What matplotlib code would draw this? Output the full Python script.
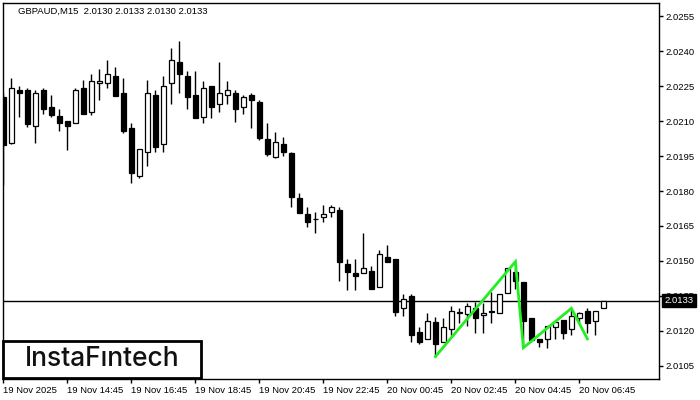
import matplotlib
matplotlib.use("Agg")
import matplotlib.pyplot as plt
import matplotlib.patches as mpatches
import numpy as np

# OHLC, 15 min candles starting 19 Nov 12:45
opens = [2.02204, 2.02007, 2.02233, 2.02233, 2.02080, 2.02233, 2.02159, 2.02121, 2.02100, 2.02090,
         2.02240, 2.02140, 2.02262, 2.02262, 2.02293, 2.02219, 2.02071, 2.01866, 2.01968, 2.02211,
         2.02000, 2.02262, 2.02354, 2.02293, 2.02211, 2.02118, 2.02250, 2.02172, 2.02211, 2.02219,
         2.02159, 2.02211, 2.02180, 2.02022, 2.01947, 2.02000, 2.01962, 2.01770, 2.01700, 2.01679,
         2.01687, 2.01709, 2.01719, 2.01486, 2.01447, 2.01447, 2.01457, 2.01387, 2.01516, 2.01507,
         2.01297, 2.01350, 2.01194, 2.01164, 2.01237, 2.01154, 2.01207, 2.01276, 2.01273, 2.01297,
         2.01269, 2.01283, 2.01276, 2.01364, 2.01454, 2.01411, 2.01254, 2.01164, 2.01164, 2.01216,
         2.01247, 2.01207, 2.01254, 2.01286, 2.01244, 2.01300]
highs = [2.02220, 2.02283, 2.02250, 2.02240, 2.02233, 2.02240, 2.02211, 2.02151, 2.02100, 2.02240,
         2.02276, 2.02301, 2.02323, 2.02361, 2.02330, 2.02283, 2.02090, 2.01979, 2.02276, 2.02233,
         2.02293, 2.02412, 2.02444, 2.02316, 2.02316, 2.02271, 2.02250, 2.02354, 2.02271, 2.02233,
         2.02211, 2.02219, 2.02190, 2.02090, 2.02052, 2.02033, 2.01968, 2.01790, 2.01733, 2.01709,
         2.01740, 2.01740, 2.01730, 2.01507, 2.01507, 2.01619, 2.01479, 2.01547, 2.01569, 2.01507,
         2.01359, 2.01359, 2.01218, 2.01276, 2.01259, 2.01254, 2.01307, 2.01297, 2.01319, 2.01326,
         2.01319, 2.01368, 2.01357, 2.01469, 2.01469, 2.01411, 2.01254, 2.01164, 2.01223, 2.01237,
         2.01247, 2.01297, 2.01283, 2.01297, 2.01286, 2.01330]
lows = [2.01826, 2.02001, 2.02118, 2.02076, 2.02007, 2.02129, 2.02118, 2.02058, 2.01976, 2.02090,
        2.02129, 2.02126, 2.02190, 2.02240, 2.02208, 2.02050, 2.01836, 2.01857, 2.01908, 2.01968,
        2.01968, 2.02172, 2.02219, 2.02150, 2.02112, 2.02090, 2.02112, 2.02140, 2.02172, 2.02097,
        2.02129, 2.02069, 2.02019, 2.01950, 2.01940, 2.01950, 2.01730, 2.01706, 2.01647, 2.01619,
        2.01668, 2.01687, 2.01416, 2.01376, 2.01376, 2.01447, 2.01379, 2.01387, 2.01497, 2.01264,
        2.01266, 2.01154, 2.01144, 2.01164, 2.01090, 2.01154, 2.01183, 2.01236, 2.01221, 2.01193,
        2.01193, 2.01236, 2.01276, 2.01364, 2.01379, 2.01133, 2.01154, 2.01133, 2.01126, 2.01164,
        2.01164, 2.01183, 2.01236, 2.01193, 2.01183, 2.01300]
closes = [2.01997, 2.02240, 2.02219, 2.02087, 2.02219, 2.02150, 2.02126, 2.02090, 2.02080, 2.02233,
          2.02129, 2.02271, 2.02271, 2.02301, 2.02208, 2.02058, 2.01878, 2.01979, 2.02219, 2.01990,
          2.02250, 2.02361, 2.02301, 2.02202, 2.02112, 2.02240, 2.02159, 2.02219, 2.02233, 2.02150,
          2.02202, 2.02190, 2.02028, 2.01959, 2.02009, 2.01968, 2.01774, 2.01707, 2.01668, 2.01680,
          2.01700, 2.01730, 2.01497, 2.01454, 2.01437, 2.01469, 2.01379, 2.01529, 2.01497, 2.01283,
          2.01336, 2.01183, 2.01154, 2.01244, 2.01144, 2.01216, 2.01286, 2.01283, 2.01307, 2.01254,
          2.01276, 2.01284, 2.01357, 2.01469, 2.01416, 2.01244, 2.01161, 2.01154, 2.01223, 2.01237,
          2.01193, 2.01266, 2.01276, 2.01236, 2.01286, 2.01330]

# pattern line (candle index, price)
pattern_idx = [54, 64, 65, 71, 73]
pattern_px = [2.01090, 2.01497, 2.01128, 2.01297, 2.01166]

last_price = 2.0133
y_ticks = [2.0105, 2.0120, 2.0135, 2.0150, 2.0165, 2.0180, 2.0195, 2.0210, 2.0225, 2.0240, 2.0255]
x_tick_idx = [0, 8, 16, 24, 32, 40, 48, 56, 64, 72]
x_tick_labels = ["19 Nov 2025", "19 Nov 14:45", "19 Nov 16:45", "19 Nov 18:45", "19 Nov 20:45",
                 "19 Nov 22:45", "20 Nov 00:45", "20 Nov 02:45", "20 Nov 04:45", "20 Nov 06:45"]

plt.rcParams['font.family'] = ['Liberation Sans', 'DejaVu Sans']

fig = plt.figure(figsize=(7, 4), dpi=100)
ax = fig.add_axes([3 / 700, 21 / 400, 656 / 700, 376 / 400])

o = np.array(opens)
h = np.array(highs)
l = np.array(lows)
c = np.array(closes)
idx = np.arange(len(o))

# wicks
ax.vlines(idx, l, h, color='black', lw=1, zorder=2)
# bodies
up = c >= o
bottom = np.minimum(o, c)
height = np.maximum(np.abs(c - o), 0.00002)
ax.bar(idx[up], height[up], bottom=bottom[up], width=0.56, color='white',
       edgecolor='black', lw=0.9, zorder=3)
ax.bar(idx[~up], height[~up], bottom=bottom[~up], width=0.56, color='black',
       edgecolor='black', lw=0.9, zorder=3)

ax.plot(pattern_idx, pattern_px, color='#22ee22', lw=2, zorder=4, solid_joinstyle='miter')

ax.axhline(last_price, color='black', lw=1, zorder=1)

ax.set_xlim(-0.05, 81.95)
ax.set_ylim(2.00994, 2.02606)

ax.yaxis.tick_right()
ax.set_yticks(y_ticks)
ax.set_yticklabels([f"{v:.4f}" for v in y_ticks])
ax.set_xticks(x_tick_idx)
ax.set_xticklabels(x_tick_labels)
for lbl in ax.get_xticklabels():
    lbl.set_ha('left')
ax.tick_params(axis='both', direction='out', length=3, width=1, labelsize=6.8, pad=2,
               colors='black')
for sp in ax.spines.values():
    sp.set_linewidth(1)
    sp.set_color('black')

ax.annotate(f"{last_price:.4f}", xy=(1.0, last_price), xycoords=('axes fraction', 'data'),
            xytext=(4, 0), textcoords='offset points', ha='left', va='center',
            fontsize=6.8, color='white', zorder=10, annotation_clip=False,
            bbox=dict(boxstyle='square,pad=0.25', fc='black', ec='black'))

fig.text(18 / 700, 1 - 11 / 400, "GBPAUD,M15  2.0130 2.0133 2.0130 2.0133",
         fontsize=6.8, va='center', ha='left', color='black')

# logo
logo = mpatches.Rectangle((3 / 700, 22 / 400), 198 / 700, 37 / 400, transform=fig.transFigure,
                          fc='white', ec='black', lw=2, zorder=5)
fig.patches.append(logo)
fig.text(102 / 700, 1 - 359 / 400, "InstaF\u0131ntech", fontsize=19, family=['Inter', 'DejaVu Sans'],
         weight='medium', ha='center', va='center', color='#111111', zorder=6)

fig.savefig("out.png", dpi=100)
